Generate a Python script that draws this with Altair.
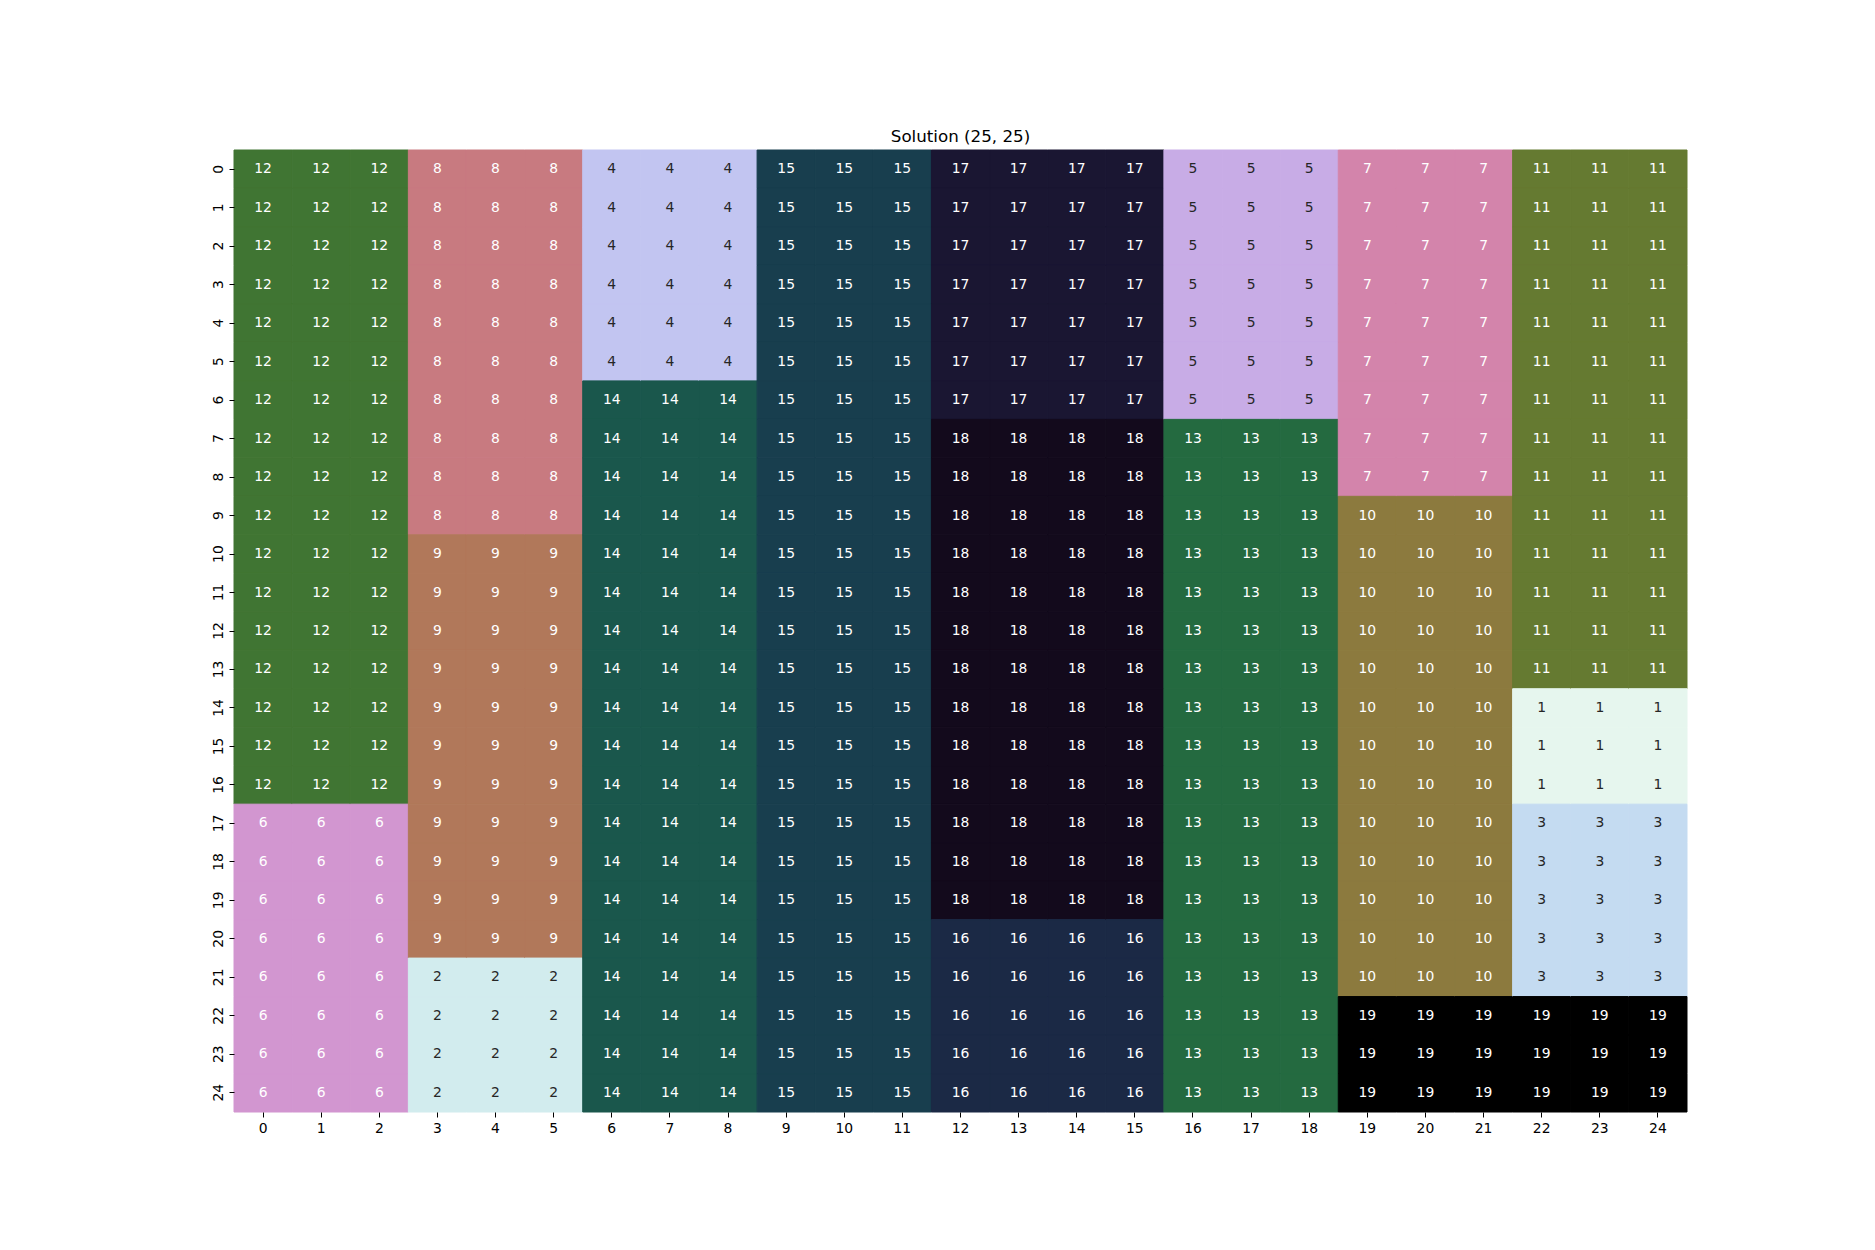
import altair as alt
import pandas as pd

# Column bands (number of columns in each band) and, per band, runs of (value, row count) from top to bottom
band_widths = [3, 3, 3, 3, 4, 3, 3, 3]
band_runs = [
    [(12, 17), (6, 8)],
    [(8, 10), (9, 11), (2, 4)],
    [(4, 6), (14, 19)],
    [(15, 25)],
    [(17, 7), (18, 13), (16, 5)],
    [(5, 7), (13, 18)],
    [(7, 9), (10, 13), (19, 3)],
    [(11, 14), (1, 3), (3, 5), (19, 3)],
]

values_domain = list(range(1, 20))
values_colors = [
    "#e6f6ee", "#d2ecee", "#c4dbf1", "#c2c5f1", "#c8ace6", "#d296d0", "#d384ab",
    "#c87a80", "#b1785a", "#8c7a3e", "#657a31", "#407533", "#246a40", "#1a574c",
    "#183e4e", "#1b2945", "#1a1632", "#130a1c", "#000000",
]
dark_text_values = [1, 2, 3, 4, 5]

rows = []
col = 0
for w, runs in zip(band_widths, band_runs):
    for c in range(col, col + w):
        r = 0
        for v, n in runs:
            for rr in range(r, r + n):
                rows.append({"row": rr, "col": c, "value": v})
            r += n
    col += w
df = pd.DataFrame(rows)
df["dark"] = df["value"].isin(dark_text_values)

order = list(range(25))
FONT = "DejaVu Sans"

base = alt.Chart(df).encode(
    x=alt.X("col:O", sort=order, title=None,
            scale=alt.Scale(paddingInner=0, paddingOuter=0),
            axis=alt.Axis(orient="bottom", labelAngle=0, domain=False, tickSize=5,
                          tickColor="black", labelColor="black", labelFont=FONT,
                          labelFontSize=13.9, labelPadding=4, grid=False)),
    y=alt.Y("row:O", sort=order, title=None,
            scale=alt.Scale(paddingInner=0, paddingOuter=0),
            axis=alt.Axis(orient="left", labelAngle=270, domain=False, tickSize=5,
                          tickColor="black", labelColor="black", labelFont=FONT,
                          labelFontSize=13.9, labelPadding=4, grid=False,
                          labelAlign="center", labelBaseline="bottom")),
)

cscale = alt.Scale(domain=values_domain, range=values_colors)
rects = base.mark_rect(strokeWidth=1).encode(
    color=alt.Color("value:O", scale=cscale, legend=None),
    stroke=alt.Stroke("value:O", scale=cscale, legend=None),
)

texts = base.mark_text(font=FONT, fontSize=13.9).encode(
    text=alt.Text("value:Q"),
    color=alt.condition("datum.dark", alt.value("#262626"), alt.value("#ffffff")),
)

chart = alt.layer(rects, texts).resolve_scale(color="independent").properties(
    width=1453, height=962,
    title=alt.TitleParams("Solution (25, 25)", font=FONT, fontSize=16.7,
                          fontWeight="normal", color="black", offset=4, anchor="middle"),
    autosize=alt.AutoSizeParams(type="none"),
    padding={"left": 234, "top": 150, "right": 188, "bottom": 138},
).configure_view(stroke=None)

chart.save("out.html", embed_options={"renderer": "svg", "actions": False})
